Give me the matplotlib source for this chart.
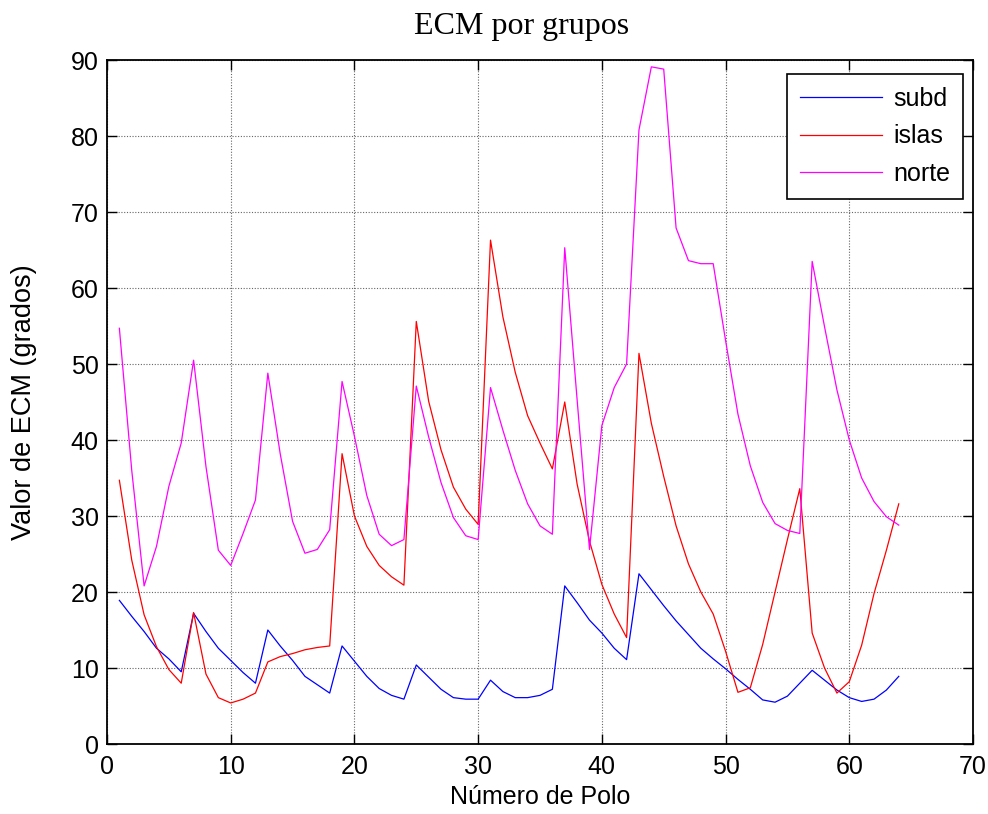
import matplotlib
matplotlib.use("Agg")
import matplotlib.pyplot as plt
import numpy as np

polo = list(range(1, 65))

subd = [18.9, 16.8, 14.8, 12.6, 11.2, 9.5, 17.2, 14.8, 12.6, 11.0,
        9.4, 8.0, 15.0, 12.9, 11.0, 8.9, 7.8, 6.7, 12.9, 10.9,
        8.9, 7.3, 6.4, 5.9, 10.4, 8.8, 7.2, 6.1, 5.9, 5.9,
        8.4, 6.9, 6.1, 6.1, 6.4, 7.2, 20.8, 18.6, 16.3, 14.6,
        12.6, 11.1, 22.4, 20.3, 18.2, 16.2, 14.4, 12.6, 11.2, 9.9,
        8.5, 7.2, 5.8, 5.5, 6.3, 8.0, 9.7, 8.4, 7.1, 6.1,
        5.6, 5.9, 7.1, 8.9]

islas = [34.7, 24.2, 17.0, 12.8, 9.8, 8.0, 17.3, 9.2, 6.1, 5.4,
         5.9, 6.7, 10.8, 11.5, 11.9, 12.4, 12.7, 12.9, 38.2, 30.0,
         26.0, 23.5, 22.0, 20.9, 55.6, 45.1, 38.7, 33.8, 30.9, 28.9,
         66.3, 56.2, 48.9, 43.2, 39.6, 36.2, 45.0, 34.2, 26.7, 21.0,
         17.1, 14.0, 51.4, 42.2, 35.2, 28.7, 23.7, 20.0, 17.1, 12.2,
         6.8, 7.4, 13.1, 20.0, 26.9, 33.6, 14.6, 10.0, 6.7, 8.2,
         13.0, 19.8, 25.5, 31.6]

norte = [54.7, 36.0, 20.8, 26.0, 33.9, 39.6, 50.5, 36.5, 25.5, 23.5,
         27.7, 32.1, 48.8, 38.2, 29.3, 25.1, 25.6, 28.2, 47.7, 40.5,
         32.7, 27.6, 26.1, 26.9, 47.1, 40.4, 34.4, 29.8, 27.4, 26.9,
         46.9, 41.3, 36.0, 31.6, 28.7, 27.6, 65.3, 45.3, 25.6, 41.9,
         46.9, 50.0, 80.8, 89.1, 88.8, 67.9, 63.6, 63.2, 63.2, 53.1,
         43.4, 36.6, 31.8, 29.0, 28.1, 27.7, 63.5, 54.9, 46.6, 40.0,
         35.0, 31.9, 29.9, 28.8]

xticks = [0, 10, 20, 30, 40, 50, 60, 70]
yticks = [0, 10, 20, 30, 40, 50, 60, 70, 80, 90]

plt.rcParams['font.family'] = ['Liberation Sans', 'DejaVu Sans']

fig = plt.figure(figsize=(9.88, 8.14), dpi=100)
ax = fig.add_axes([107/988, 1-744/814, (973-107)/988, (744-60)/814])

ax.plot(polo, subd, color='#0000ff', lw=0.9, label='subd')
ax.plot(polo, islas, color='#ff0000', lw=0.9, label='islas')
ax.plot(polo, norte, color='#ff00ff', lw=0.9, label='norte')

ax.set_xlim(0, 70)
ax.set_ylim(0, 90)
ax.set_xticks(xticks)
ax.set_yticks(yticks)
ax.tick_params(direction='in', top=True, right=True, labelsize=18, length=7, width=1)
ax.tick_params(axis='x', pad=8)
ax.tick_params(axis='y', pad=6)
ax.grid(True, color='#666666', linestyle=(0, (1, 1.5)), linewidth=0.8)
for s in ax.spines.values():
    s.set_linewidth(1.3)

ax.set_xlabel('Número de Polo', fontsize=18, labelpad=4)
ax.set_ylabel('Valor de ECM (grados)', fontsize=19.5, labelpad=24)
ax.set_title('ECM por grupos', fontsize=23, family=['Liberation Serif', 'DejaVu Serif'],
             pad=19, x=(521.5-107)/866)

leg = ax.legend(loc='upper right', bbox_to_anchor=((963-107)/866, (744-74)/684),
                fontsize=18, frameon=True, fancybox=False,
                edgecolor='black', framealpha=1, handlelength=3.3,
                borderaxespad=0, labelspacing=0.55, handletextpad=0.45, borderpad=0.5)
leg.get_frame().set_linewidth(1.2)

fig.savefig('out.png', dpi=100)
